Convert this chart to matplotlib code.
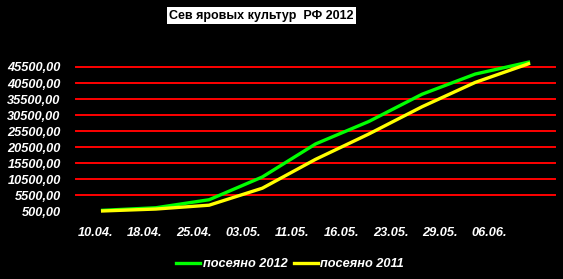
import numpy as np
import matplotlib
matplotlib.use("Agg")
import matplotlib.pyplot as plt

dates = ["10.04.", "18.04.", "25.04.", "03.05.", "11.05.", "16.05.", "23.05.", "29.05.", "06.06."]
sown_2012 = [800, 1600, 4100, 11200, 21500, 28500, 37000, 43300, 47000]
sown_2011 = [600, 1200, 2400, 7700, 16700, 24600, 33100, 40700, 46500]
y_ticks = [500, 5500, 10500, 15500, 20500, 25500, 30500, 35500, 40500, 45500]

plt.rcParams['font.family'] = ['Liberation Sans', 'DejaVu Sans']

fig = plt.figure(figsize=(5.63, 2.79), dpi=100, facecolor="black")
ax = fig.add_axes([0.135, 0.2427, 0.851, 0.5172], facecolor="black")

x = np.arange(len(dates))
ax.plot(x, sown_2012, color="#00ff00", lw=2.4, label="посеяно 2012", clip_on=False, zorder=3)
ax.plot(x, sown_2011, color="#ffff00", lw=2.4, label="посеяно 2011", clip_on=False, zorder=3)

ax.set_xlim(-0.5, len(dates) - 0.5)
ax.set_ylim(500, 45500)
ax.set_yticks(y_ticks)
ax.set_yticklabels([f"{v:.2f}".replace(".", ",") for v in y_ticks],
                   color="white", fontsize=9.2, fontweight="bold", style="italic")
for v in y_ticks[1:]:
    ax.axhline(v, color="#ff0000", lw=1.4, zorder=1, clip_on=False)

# excel places the category labels a bit compressed to the left
ax.set_xticks(x * 0.926 - 0.14)
ax.set_xticklabels(dates, color="white", fontsize=9.2, fontweight="bold", style="italic")
ax.tick_params(length=0, pad=11)
ax.tick_params(axis="y", pad=11)
for s in ax.spines.values():
    s.set_visible(False)

fig.text(0.4645, 0.944, "Сев яровых культур  РФ 2012", ha="center", va="center",
         fontsize=9, fontweight="bold", color="black",
         bbox=dict(facecolor="white", edgecolor="none", pad=1.5))

leg = fig.legend(loc="center", bbox_to_anchor=(0.515, 0.052), ncol=2, frameon=False,
                 handlelength=1.9, handletextpad=0.2, columnspacing=0.5,
                 prop=dict(size=9.2, weight="bold", style="italic"))
for t in leg.get_texts():
    t.set_color("white")

fig.savefig("out.png", dpi=100, facecolor="black")
